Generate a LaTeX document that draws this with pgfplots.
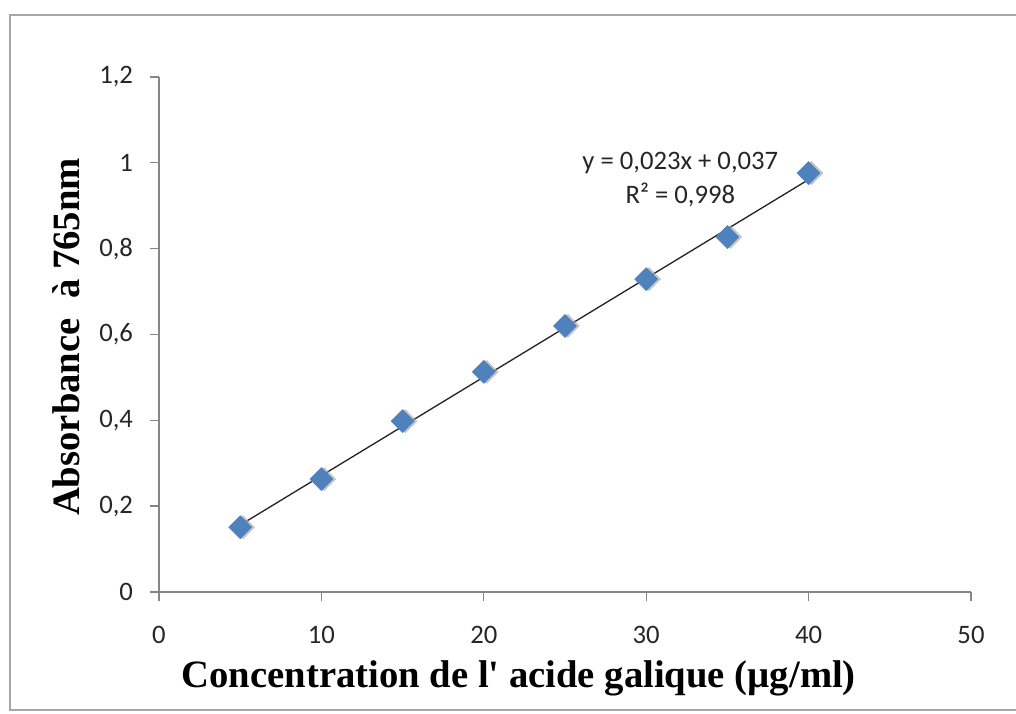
\documentclass[border=0pt]{standalone}
\usepackage{pgfplots}
\pgfplotsset{compat=1.18}
\usepackage{fontspec}
\setmainfont{Carlito}
\newfontfamily\labelfont{Liberation Serif}
\definecolor{excelBlue}{HTML}{4F81BD}
\definecolor{axisGray}{HTML}{868686}
\definecolor{frameGray}{HTML}{A6A6A6}

\begin{document}
\begin{tikzpicture}
% 1 px of the reference = 0.75pt
\useasboundingbox (0,0) rectangle (762pt,534.75pt);
\begin{scope}
\clip (0,0) rectangle (762pt,534.75pt);
\draw[frameGray, line width=1.4pt] (7.5pt,2pt) rectangle (780pt,523.5pt);
\end{scope}
\begin{axis}[
  at={(119.25pt,90.75pt)}, anchor=south west,
  scale only axis,
  width=609pt, height=386.25pt,
  xmin=0, xmax=50, ymin=0, ymax=1.2,
  xtick={0,10,20,30,40,50},
  ytick={0,0.2,0.4,0.6,0.8,1,1.2},
  axis x line=bottom, axis y line=left,
  axis line style={-, axisGray, line width=1pt},
  tick style={axisGray, line width=1pt},
  tick align=outside,
  major tick length=7pt,
  /pgf/number format/use comma,
  /pgf/number format/assume math mode=true,
  tick label style={font=\fontsize{20}{22}\selectfont, text=black!85},
  xticklabel style={yshift=-15pt},
  yticklabel style={xshift=-9pt},
  xlabel={Concentration de l' acide galique (µg/ml)},
  xlabel style={at={(axis description cs:0.443,-0.186)}, anchor=base,
    font=\labelfont\bfseries\fontsize{29}{32}\selectfont},
  ylabel={Absorbance~ à 765nm},
  ylabel style={at={(axis description cs:-0.1145,0.495)}, anchor=center, rotate=0,
    font=\labelfont\bfseries\fontsize{29}{32}\selectfont},
  clip=false,
]
% shadow of the markers
\addplot[only marks, mark=square*, mark size=6.1pt, color=black!35, opacity=0.6,
  mark options={rotate=45},
  every mark/.append style={xshift=1.5pt, yshift=-1.5pt}] coordinates {
  (5,0.151) (10,0.263) (15,0.398) (20,0.513) (25,0.620) (30,0.729) (35,0.827) (40,0.976)
};
\addplot[only marks, mark=square*, mark size=6.1pt, color=excelBlue,
  mark options={rotate=45}] coordinates {
  (5,0.151) (10,0.263) (15,0.398) (20,0.513) (25,0.620) (30,0.729) (35,0.827) (40,0.976)
};
% linear trendline
\addplot[black!85, line width=1pt] coordinates {(5,0.156) (40,0.961)};
\node[align=center, font=\fontsize{20}{25.5}\selectfont, text=black!85]
  at (axis cs:32.1,0.96) {y = 0,023x + 0,037\\R² = 0,998};
\end{axis}
\end{tikzpicture}
\end{document}
